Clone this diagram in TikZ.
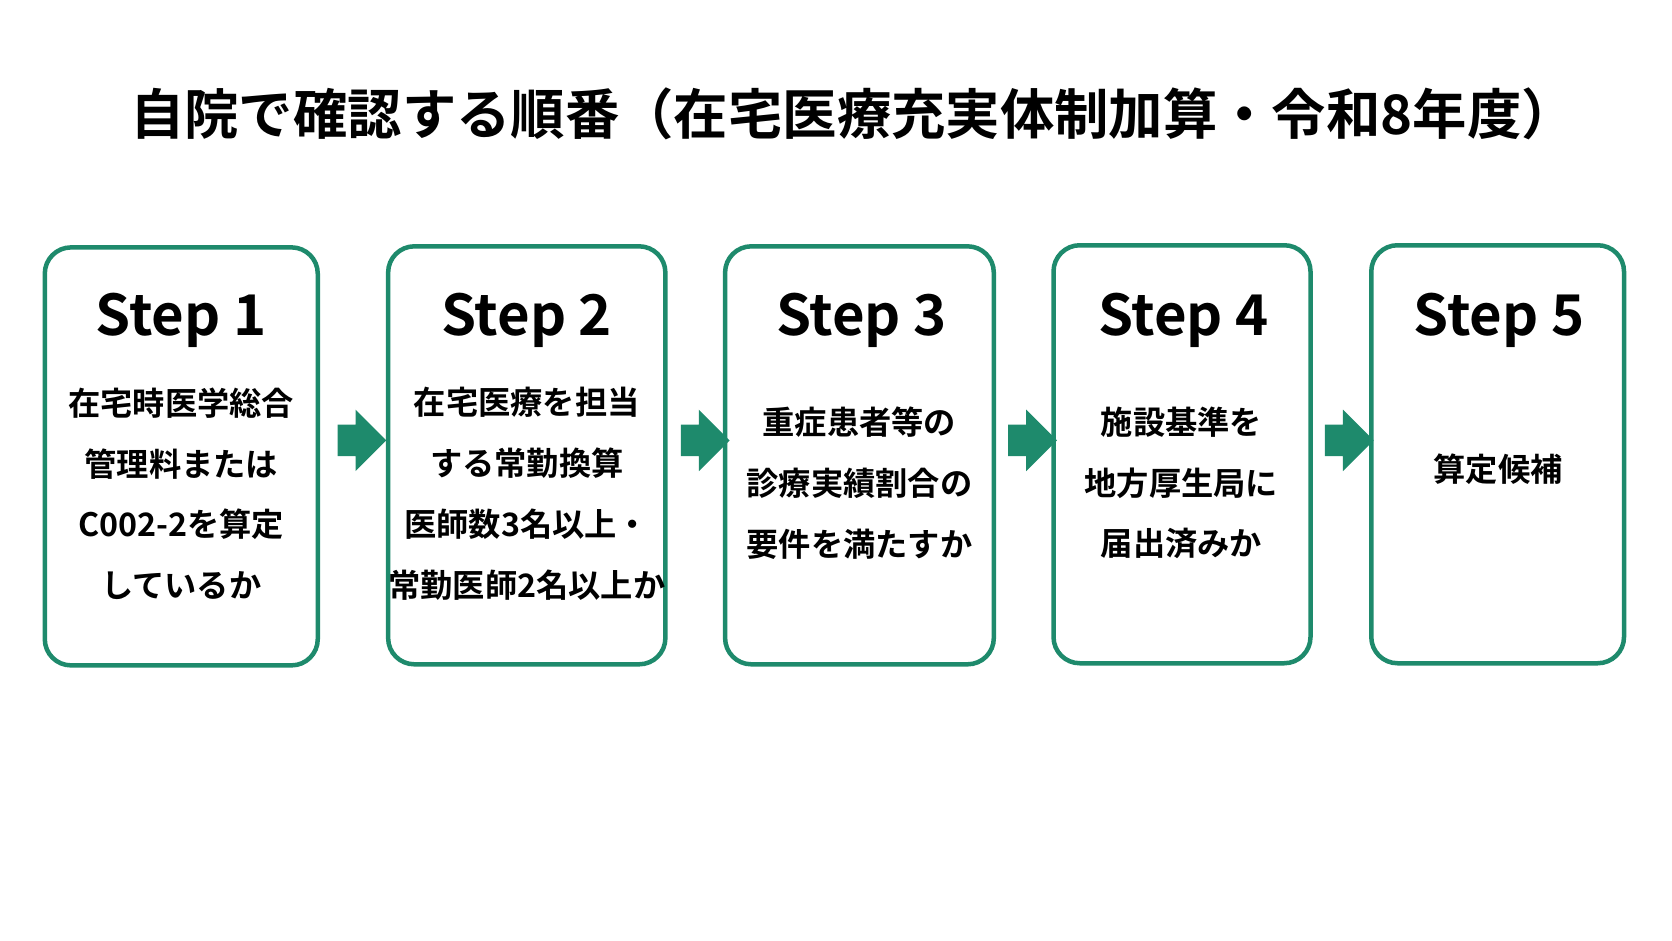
\documentclass[tikz,border=0pt]{standalone}
\usepackage{fontspec}
\setmainfont{Noto Sans CJK JP Bold}
\usetikzlibrary{shapes.arrows,positioning}
\definecolor{stepgreen}{HTML}{1E8A6C}
\tikzset{
  stepbox/.style={draw=stepgreen,line width=1.2pt,rounded corners=7pt,fill=white},
  steptitle/.style={font=\fontsize{15}{18}\selectfont},
  stepbody/.style={font=\fontsize{8.6}{16.2}\selectfont,align=center},
  steparrow/.style={single arrow,fill=stepgreen,draw=none,minimum height=13pt,
    single arrow head extend=4pt,inner sep=4pt}
}
\begin{document}
\begin{tikzpicture}[x=0.01cm,y=-0.01cm]
\useasboundingbox (0,0) rectangle (1568,882);
\node[font=\fontsize{14.5}{17}\selectfont] (title) at (800,107) {自院で確認する順番（在宅医療充実体制加算・令和8年度）};
% step boxes
\draw[stepbox] (42,232) rectangle (298,624); %step 1
\draw[stepbox] (364,231) rectangle (624,623); %step 2
\draw[stepbox] (680,231) rectangle (932,623); %step 3
\draw[stepbox] (988,230) rectangle (1229,622); %step 4
\draw[stepbox] (1286,230) rectangle (1523,622); %step 5
\node[steptitle] (s1) at (170,300) {Step 1};
\node[steptitle] (s2) at (494,300) {Step 2};
\node[steptitle] (s3) at (808,300) {Step 3};
\node[steptitle] (s4) at (1110,300) {Step 4};
\node[steptitle] (s5) at (1406,300) {Step 5};
\node[stepbody] (b1) at (170,463) {在宅時医学総合\\管理料または\\C002-2を算定\\しているか};
\node[stepbody] (b2) at (494,463) {在宅医療を担当\\する常勤換算\\医師数3名以上・\\常勤医師2名以上か};
\node[stepbody] (b3) at (806,453) {重症患者等の\\診療実績割合の\\要件を満たすか};
\node[stepbody] (b4) at (1108,453) {施設基準を\\地方厚生局に\\届出済みか};
\node[stepbody] (b5) at (1405,440) {算定候補};
% arrows between steps
\node[steparrow] (a1) at (332,413) {};
\node[steparrow] (a2) at (654,413) {};
\node[steparrow] (a3) at (961,413) {};
\node[steparrow] (a4) at (1258,413) {};
\end{tikzpicture}
\end{document}
